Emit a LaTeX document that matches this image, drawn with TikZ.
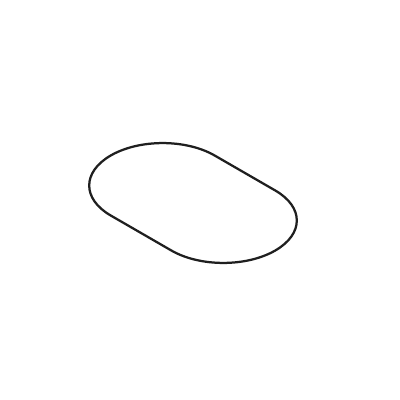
\documentclass[tikz,border=0pt]{standalone}
\begin{document}
\begin{tikzpicture}[x=0.025cm,y=-0.025cm,
  outline/.style={draw=black!88,line width=1.6pt,line join=round}]
\useasboundingbox (0,0) rectangle (400,400);
\fill[white] (0,0) rectangle (400,400);
\begin{scope}[cm={0.866,-0.5,0.866,0.5,(193,203)}]
\draw[outline] (-35,-60) -- (35,-60)
  .. controls (68.14,-60) and (95,-33.14) .. (95,0)
  .. controls (95,33.14) and (68.14,60) .. (35,60)
  -- (-35,60)
  .. controls (-68.14,60) and (-95,33.14) .. (-95,0)
  .. controls (-95,-33.14) and (-68.14,-60) .. (-35,-60) -- cycle;
\end{scope}
\end{tikzpicture}
\end{document}
